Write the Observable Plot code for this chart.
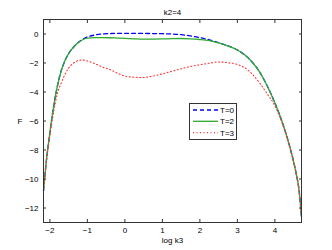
<!DOCTYPE html>
<html><head><meta charset="utf-8">
<script src="https://cdn.jsdelivr.net/npm/d3@7"></script>
<script src="https://cdn.jsdelivr.net/npm/@observablehq/plot@0.6"></script>
<style>
body{margin:0;background:#fff;}
#wrap{position:relative;width:332px;height:250px;font-family:"Liberation Sans",Arial,sans-serif;}
</style></head>
<body><div id="wrap"></div>
<script>
const title = "k2=4";
const xLabel = "log k3";
const yLabel = "F";
const seriesNames = ["T=0", "T=2", "T=3"];
const logK3 = [-2.17, -2.1, -2.0, -1.9, -1.8, -1.7, -1.6, -1.5, -1.4, -1.3, -1.2, -1.1, -1.0, -0.8, -0.6, -0.4, -0.2, 0, 0.25, 0.5, 0.75, 1.0, 1.25, 1.5, 1.75, 2.0, 2.25, 2.5, 2.75, 3.0, 3.2, 3.4, 3.6, 3.8, 4.0, 4.2, 4.4, 4.55, 4.65, 4.71];
const fT0 = [-10.8, -8.9, -6.8, -5.0, -3.6, -2.55, -1.85, -1.35, -1.0, -0.72, -0.5, -0.33, -0.2, -0.07, 0.0, 0.03, 0.05, 0.05, 0.05, 0.04, 0.03, 0.02, 0.0, -0.05, -0.13, -0.25, -0.40, -0.6, -0.82, -1.1, -1.45, -1.95, -2.65, -3.6, -4.75, -6.1, -7.8, -9.4, -10.9, -12.6];
const fT2 = [-10.8, -8.9, -6.8, -5.0, -3.6, -2.55, -1.85, -1.35, -1.0, -0.72, -0.52, -0.36, -0.28, -0.25, -0.25, -0.26, -0.28, -0.30, -0.33, -0.35, -0.35, -0.34, -0.32, -0.31, -0.33, -0.38, -0.46, -0.62, -0.83, -1.1, -1.45, -1.95, -2.65, -3.6, -4.75, -6.1, -7.8, -9.4, -10.9, -12.6];
const fT3 = [-10.8, -9.0, -7.0, -5.4, -4.1, -3.4, -2.8, -2.35, -2.07, -1.9, -1.8, -1.8, -1.86, -2.05, -2.28, -2.45, -2.7, -2.9, -2.98, -3.0, -2.9, -2.75, -2.57, -2.40, -2.24, -2.12, -2.02, -1.93, -1.98, -2.1, -2.33, -2.78, -3.4, -4.15, -4.95, -6.2, -7.85, -9.4, -10.9, -12.6];
const xTicks = [-2, -1, 0, 1, 2, 3, 4];
const yTicks = [0, -2, -4, -6, -8, -10, -12];
const xDomain = [-2.17, 4.71];
const yDomain = [-13, 1];

const styles = [
  {stroke: "#0000ff", strokeWidth: 1.3, strokeDasharray: "4,3"},
  {stroke: "#2eaa2e", strokeWidth: 1.3},
  {stroke: "#ff3333", strokeWidth: 1.1, strokeDasharray: "1,2.5"}
];
const allSeries = [fT0, fT2, fT3];
const rows = (ys) => logK3.map((x, i) => ({x, y: ys[i]}));
const minus = d => String(d).replace("-", "\u2212");

const frameColor = "#333";
const chart = Plot.plot({
  width: 332, height: 250,
  marginLeft: 43, marginRight: 31, marginTop: 19, marginBottom: 28,
  style: {fontFamily: "Liberation Sans, Arial, sans-serif", fontSize: "8px", color: "#000", background: "#fff"},
  x: {domain: xDomain},
  y: {domain: yDomain},
  marks: [
    Plot.frame({fill: "#fff"}),
    ...allSeries.map((ys, i) => Plot.line(rows(ys), {x: "x", y: "y", curve: "monotone-x", ...styles[i]})),
    Plot.axisX({ticks: xTicks, tickSize: 0, tickPadding: 5, label: null, tickFormat: minus}),
    Plot.axisX({ticks: xTicks, tickSize: -3, text: null, label: null, stroke: frameColor}),
    Plot.axisX({anchor: "top", ticks: xTicks, tickSize: -3, text: null, label: null, stroke: frameColor}),
    Plot.axisY({ticks: yTicks, tickSize: 0, tickPadding: 5, label: null, tickFormat: minus}),
    Plot.axisY({ticks: yTicks, tickSize: -3, text: null, label: null, stroke: frameColor}),
    Plot.axisY({anchor: "right", ticks: yTicks, tickSize: -3, text: null, label: null, stroke: frameColor}),
    Plot.frame({stroke: frameColor, strokeWidth: 1}),
    Plot.text([title], {frameAnchor: "top", dy: -10, text: d => d, fontSize: 8}),
    Plot.text([xLabel], {frameAnchor: "bottom", dy: 20, text: d => d, fontSize: 8}),
    Plot.text([yLabel], {frameAnchor: "left", dx: -26, text: d => d, fontSize: 8})
  ]
});
const wrap = document.getElementById("wrap");
wrap.appendChild(chart);

// legend box
const ns = "http://www.w3.org/2000/svg";
const lg = document.createElementNS(ns, "svg");
lg.setAttribute("width", 48); lg.setAttribute("height", 37);
lg.style.position = "absolute"; lg.style.left = "189px"; lg.style.top = "103px";
const rect = document.createElementNS(ns, "rect");
rect.setAttribute("x", 0.5); rect.setAttribute("y", 0.5); rect.setAttribute("width", 47); rect.setAttribute("height", 36);
rect.setAttribute("fill", "#fff"); rect.setAttribute("stroke", frameColor);
lg.appendChild(rect);
seriesNames.forEach((name, i) => {
  const yy = 7 + i * 11.3;
  const ln = document.createElementNS(ns, "line");
  ln.setAttribute("x1", 4); ln.setAttribute("x2", 29); ln.setAttribute("y1", yy); ln.setAttribute("y2", yy);
  ln.setAttribute("stroke", styles[i].stroke); ln.setAttribute("stroke-width", styles[i].strokeWidth);
  if (styles[i].strokeDasharray) ln.setAttribute("stroke-dasharray", styles[i].strokeDasharray);
  lg.appendChild(ln);
  const t = document.createElementNS(ns, "text");
  t.setAttribute("x", 31); t.setAttribute("y", yy + 3);
  t.setAttribute("font-size", 8); t.setAttribute("font-family", "Liberation Sans, Arial, sans-serif");
  t.textContent = name;
  lg.appendChild(t);
});
wrap.appendChild(lg);
</script>
</body></html>
